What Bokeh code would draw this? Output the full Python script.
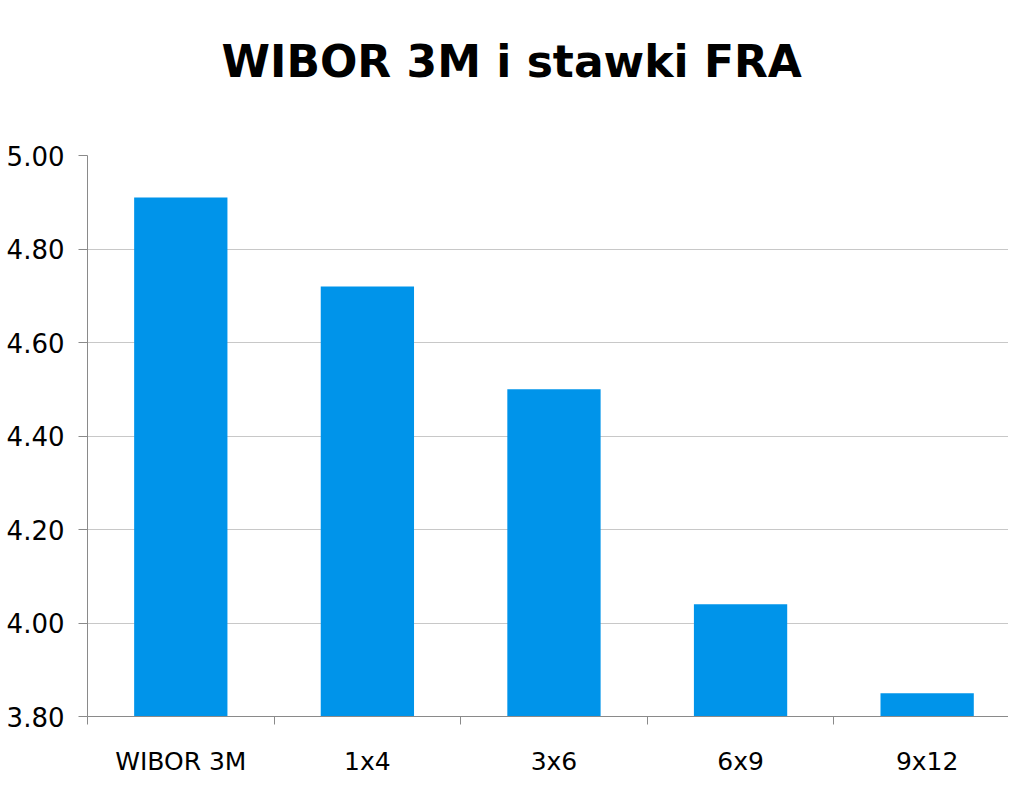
from bokeh.plotting import figure
from bokeh.models import Range1d, FixedTicker, ColumnDataSource, NumeralTickFormatter, Title
from bokeh.embed import file_html
from bokeh.resources import INLINE

title_text = "WIBOR 3M i stawki FRA"
categories = ["WIBOR 3M", "1x4", "3x6", "6x9", "9x12"]
values = [4.91, 4.72, 4.50, 4.04, 3.85]
y_ticks = [3.8, 4.0, 4.2, 4.4, 4.6, 4.8, 5.0]

positions = [i + 0.5 for i in range(len(categories))]
src = ColumnDataSource(dict(x=positions, top=values, cat=categories))

FONT = "DejaVu Sans"
p = figure(width=1008, height=783, output_backend="svg", toolbar_location=None,
           x_range=Range1d(0, 4.936), y_range=Range1d(3.8, 5.0),
           title=title_text,
           min_border_left=87, min_border_right=0, min_border_bottom=67, min_border_top=0)
p.title.text_font = FONT
p.title.text_font_size = "44px"
p.title.text_font_style = "bold"
p.title.align = "left"
p.title.offset = 134
p.title.text_color = "#000000"
p.title.standoff = 67

spacer = Title(text=" ", text_font_size="10px", standoff=22)
p.add_layout(spacer, "above")

p.vbar(x="x", top="top", bottom=3.8, width=0.5, source=src,
       fill_color="#0094EA", line_color=None)

p.outline_line_color = None
p.xgrid.grid_line_color = None
p.ygrid.grid_line_color = "#c8c8c8"
p.ygrid.grid_line_width = 1.2
p.ygrid.ticker = FixedTicker(ticks=y_ticks)

p.yaxis.ticker = FixedTicker(ticks=y_ticks)
p.yaxis.formatter = NumeralTickFormatter(format="0.00")
p.yaxis.axis_line_color = "#8a8a8a"
p.yaxis.major_tick_line_color = "#8a8a8a"
p.yaxis.major_tick_out = 9
p.yaxis.major_tick_in = 0
p.yaxis.minor_tick_line_color = None
p.yaxis.major_label_text_font = FONT
p.yaxis.major_label_text_font_size = "26px"
p.yaxis.major_label_text_color = "#000000"
p.yaxis.major_label_standoff = 14

p.xaxis.ticker = FixedTicker(ticks=positions, minor_ticks=list(range(len(categories) + 1)))
p.xaxis.major_label_overrides = {pos: c for pos, c in zip(positions, categories)}
p.xaxis.axis_line_color = "#8a8a8a"
p.xaxis.major_tick_line_color = None
p.xaxis.major_tick_out = 0
p.xaxis.major_tick_in = 0
p.xaxis.minor_tick_line_color = "#8a8a8a"
p.xaxis.minor_tick_out = 8
p.xaxis.minor_tick_in = 0
p.xaxis.major_label_text_font = FONT
p.xaxis.major_label_text_font_size = "25px"
p.xaxis.major_label_text_color = "#000000"
p.xaxis.major_label_standoff = 22

open("out.html", "w").write(file_html(p, INLINE))
